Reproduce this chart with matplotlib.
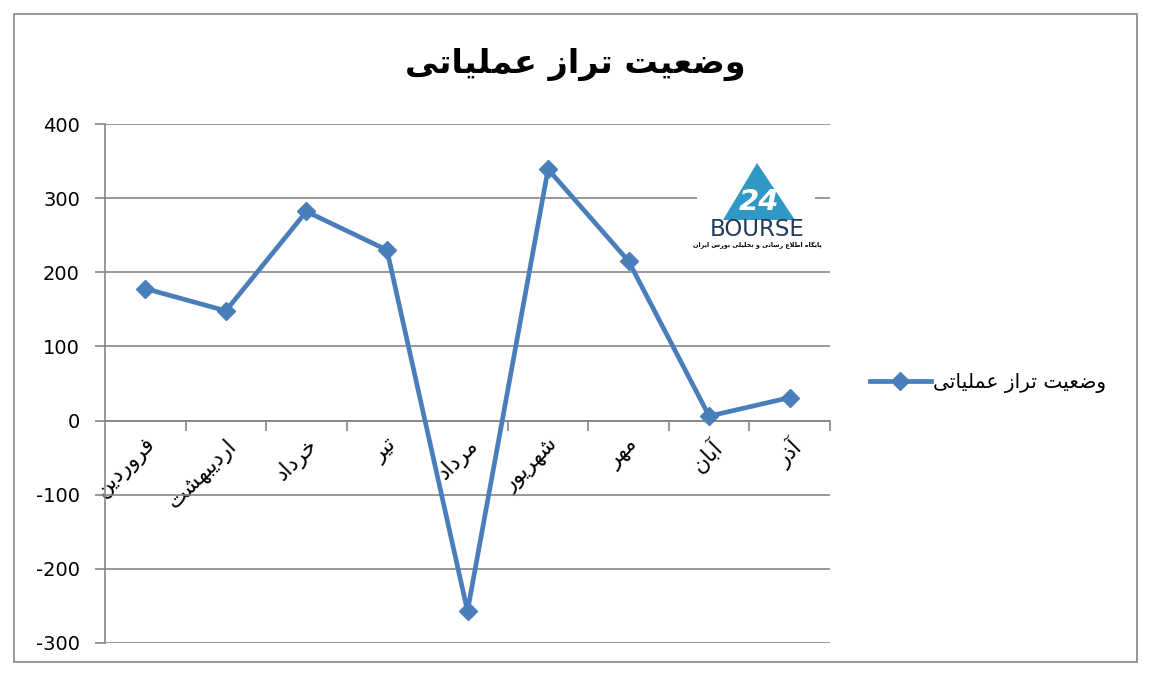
import matplotlib
matplotlib.use("Agg")
import matplotlib.pyplot as plt
from matplotlib.patches import Rectangle, Polygon
from matplotlib.lines import Line2D

# data
months = ["فروردین", "اردیبهشت", "خرداد", "تیر", "مرداد", "شهریور", "مهر", "آبان", "آذر"]
values = [178, 148, 282, 230, -257, 339, 215, 6, 31]
series_name = "وضعیت تراز عملیاتی"
title = "وضعیت تراز عملیاتی"
logo_caption = "پایگاه اطلاع رسانی و تحلیلی بورس ایران"
yticks = [-300, -200, -100, 0, 100, 200, 300, 400]

# matplotlib does no arabic shaping, so map letters to presentation forms by hand
FORMS = {
    'ا': (0xFE8D, 0xFE8E), 'آ': (0xFE81, 0xFE82),
    'ب': (0xFE8F, 0xFE90, 0xFE91, 0xFE92), 'پ': (0xFB56, 0xFB57, 0xFB58, 0xFB59),
    'ت': (0xFE95, 0xFE96, 0xFE97, 0xFE98), 'ح': (0xFEA1, 0xFEA2, 0xFEA3, 0xFEA4),
    'خ': (0xFEA5, 0xFEA6, 0xFEA7, 0xFEA8), 'د': (0xFEA9, 0xFEAA), 'ذ': (0xFEAB, 0xFEAC),
    'ر': (0xFEAD, 0xFEAE), 'ز': (0xFEAF, 0xFEB0),
    'س': (0xFEB1, 0xFEB2, 0xFEB3, 0xFEB4), 'ش': (0xFEB5, 0xFEB6, 0xFEB7, 0xFEB8),
    'ض': (0xFEBD, 0xFEBE, 0xFEBF, 0xFEC0), 'ط': (0xFEC1, 0xFEC2, 0xFEC3, 0xFEC4),
    'ع': (0xFEC9, 0xFECA, 0xFECB, 0xFECC), 'ف': (0xFED1, 0xFED2, 0xFED3, 0xFED4),
    'ک': (0xFB8E, 0xFB8F, 0xFB90, 0xFB91), 'گ': (0xFB92, 0xFB93, 0xFB94, 0xFB95),
    'ل': (0xFEDD, 0xFEDE, 0xFEDF, 0xFEE0), 'م': (0xFEE1, 0xFEE2, 0xFEE3, 0xFEE4),
    'ن': (0xFEE5, 0xFEE6, 0xFEE7, 0xFEE8), 'ه': (0xFEE9, 0xFEEA, 0xFEEB, 0xFEEC),
    'و': (0xFEED, 0xFEEE), 'ی': (0xFBFC, 0xFBFD, 0xFBFE, 0xFBFF),
}
LAM_ALEF = {'ا': (0xFEFB, 0xFEFC), 'آ': (0xFEF5, 0xFEF6)}


def fa(text):
    chars = list(text)
    n = len(chars)
    dual = lambda c: c in FORMS and len(FORMS[c]) == 4
    res = []
    i = 0
    while i < n:
        c = chars[i]
        if c not in FORMS:
            res.append(c); i += 1; continue
        conn_prev = i > 0 and dual(chars[i - 1])
        if c == 'ل' and i + 1 < n and chars[i + 1] in LAM_ALEF:
            lig = LAM_ALEF[chars[i + 1]]
            res.append(chr(lig[1] if conn_prev else lig[0])); i += 2; continue
        conn_next = dual(c) and i + 1 < n and chars[i + 1] in FORMS
        f = FORMS[c]
        if conn_prev and conn_next: g = f[3]
        elif conn_prev: g = f[1]
        elif conn_next: g = f[2]
        else: g = f[0]
        res.append(chr(g)); i += 1
    return ''.join(reversed(res))


def fig_xy(px, py):
    return px / 1149, 1 - py / 675


plt.rcParams['font.family'] = ['DejaVu Sans']
blue = '#4a7ebb'
grey = '#868686'

fig = plt.figure(figsize=(11.49, 6.75), dpi=100)
fig.patches.append(Rectangle((14 / 1149, 13 / 675), 1123 / 1149, 648 / 675, transform=fig.transFigure,
                             fill=False, edgecolor=grey, lw=1.2))

ax = fig.add_axes([105 / 1149, 32 / 675, 725 / 1149, 519 / 675])
x = list(range(len(months)))
ax.plot(x, values, color=blue, lw=3.4, marker='D', ms=9, mfc=blue, mec=blue, zorder=3)

ax.set_xlim(-0.5, len(months) - 0.5)
ax.set_ylim(-300, 400)
ax.set_yticks(yticks)
ax.set_yticklabels([str(v) for v in yticks], fontsize=14)
ax.tick_params(axis='y', length=7, color=grey, width=1.2, pad=11)
ax.grid(axis='y', color=grey, lw=1.2)
ax.set_axisbelow(True)

for s in ['top', 'right']:
    ax.spines[s].set_visible(False)
ax.spines['left'].set_color(grey)
ax.spines['left'].set_linewidth(1.2)
ax.spines['bottom'].set_position(('data', 0))
ax.spines['bottom'].set_color(grey)
ax.spines['bottom'].set_linewidth(1.2)

ax.set_xticks(x)
ax.set_xticklabels([fa(m) for m in months], rotation=45, ha='right', va='top',
                   rotation_mode='anchor', fontsize=15.5)
ax.set_xticks([i - 0.5 for i in range(1, len(months) + 1)], minor=True)
ax.tick_params(axis='x', which='major', length=0, pad=10)
ax.tick_params(axis='x', which='minor', length=7, color=grey, width=1.2)

fig.text(*fig_xy(575, 64), fa(title), fontsize=24, fontweight='bold', ha='center', va='center')

fig.legend(handles=[Line2D([], [], color=blue, lw=3.4, marker='D', ms=9)], labels=[fa(series_name)],
           loc='center left', bbox_to_anchor=fig_xy(852, 383), frameon=False,
           fontsize=14.5, handlelength=3.0, handletextpad=0.1)

# logo (white box over the gridlines)
fig.patches.append(Rectangle(fig_xy(697, 270), 118 / 1149, 124 / 675,
                             transform=fig.transFigure, facecolor='white', edgecolor='none', zorder=5))
tri = [(723, 220), (757, 163), (795, 220)]
fig.patches.append(Polygon([fig_xy(px, py) for px, py in tri], closed=True,
                           transform=fig.transFigure, facecolor='#2f98c4', edgecolor='none', zorder=6))
fig.text(*fig_xy(759, 202), "24", fontsize=21, fontweight='bold', color='white', style='italic',
         ha='center', va='center', zorder=7)
fig.text(*fig_xy(757, 229), "BOURSE", fontsize=16.5, color='#1f3b5e', ha='center', va='center', zorder=7)
fig.text(*fig_xy(757, 245), fa(logo_caption), fontsize=4.6, fontweight='bold', color='black',
         ha='center', va='center', zorder=7)

fig.savefig("out.png", dpi=100, facecolor='white')
